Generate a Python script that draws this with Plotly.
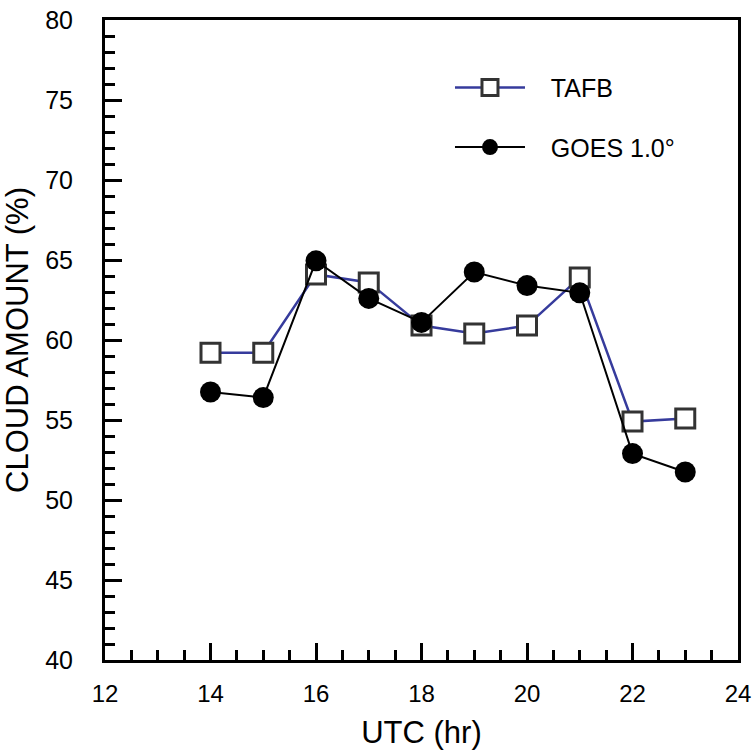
import plotly.graph_objects as go

hours = [14, 15, 16, 17, 18, 19, 20, 21, 22, 23]
tafb = [59.2, 59.2, 64.1, 63.6, 60.9, 60.4, 60.9, 63.9, 54.9, 55.1]
goes = [56.75, 56.4, 64.95, 62.6, 61.1, 64.25, 63.4, 62.95, 52.9, 51.75]

x_ticks = [12, 14, 16, 18, 20, 22, 24]
y_ticks = [40, 45, 50, 55, 60, 65, 70, 75, 80]

FONT = "Liberation Sans, Arial, sans-serif"
PAD = "\u00a0\u00a0\u00a0"

fig = go.Figure()
fig.add_trace(go.Scatter(
    x=hours, y=tafb, name=PAD + "TAFB", mode="lines+markers", legendgroup="a",
    line=dict(color="#363b9c", width=2.5),
    marker=dict(symbol="square", size=19, color="white",
                line=dict(color="#333333", width=3)),
))
fig.add_trace(go.Scatter(
    x=hours, y=goes, name=PAD + "GOES 1.0°", mode="lines+markers", legendgroup="b",
    line=dict(color="black", width=2),
    marker=dict(symbol="circle", size=21, color="black"),
))

axis_common = dict(
    showgrid=False, zeroline=False, showline=True, linecolor="black",
    linewidth=3, mirror=True, ticks="inside", tickcolor="black",
    tickwidth=2.5, ticklen=17, automargin=False, ticklabeloverflow="allow",
)

fig.update_xaxes(
    range=[12, 24], tickvals=x_ticks, ticklabelstandoff=10,
    tickfont=dict(family=FONT, size=24, color="black"),
    minor=dict(dtick=0.5, ticks="inside", ticklen=10, tickwidth=2.5, tickcolor="black"),
    title=dict(text="UTC (hr)", font=dict(family=FONT, size=31, color="black"), standoff=16),
    **axis_common,
)
fig.update_yaxes(
    range=[40, 80], tickvals=y_ticks, ticklabelstandoff=24,
    tickfont=dict(family=FONT, size=25, color="black"),
    minor=dict(dtick=1, ticks="inside", ticklen=10, tickwidth=2.5, tickcolor="black"),
    title=dict(text="CLOUD AMOUNT (%)", font=dict(family=FONT, size=31, color="black"), standoff=8),
    **axis_common,
)

fig.update_layout(
    width=752, height=750,
    margin=dict(l=105, r=14, t=20, b=90),
    plot_bgcolor="white", paper_bgcolor="white",
    font=dict(family=FONT, color="black"),
    legend=dict(
        x=0.545, y=0.93, xanchor="left", yanchor="top",
        itemwidth=70, tracegroupgap=24, traceorder="grouped",
        font=dict(family=FONT, size=25, color="black"),
        bgcolor="rgba(0,0,0,0)",
    ),
)

fig.write_html("out.html", config={"displayModeBar": False},
               post_script="document.body.style.margin='0';")
